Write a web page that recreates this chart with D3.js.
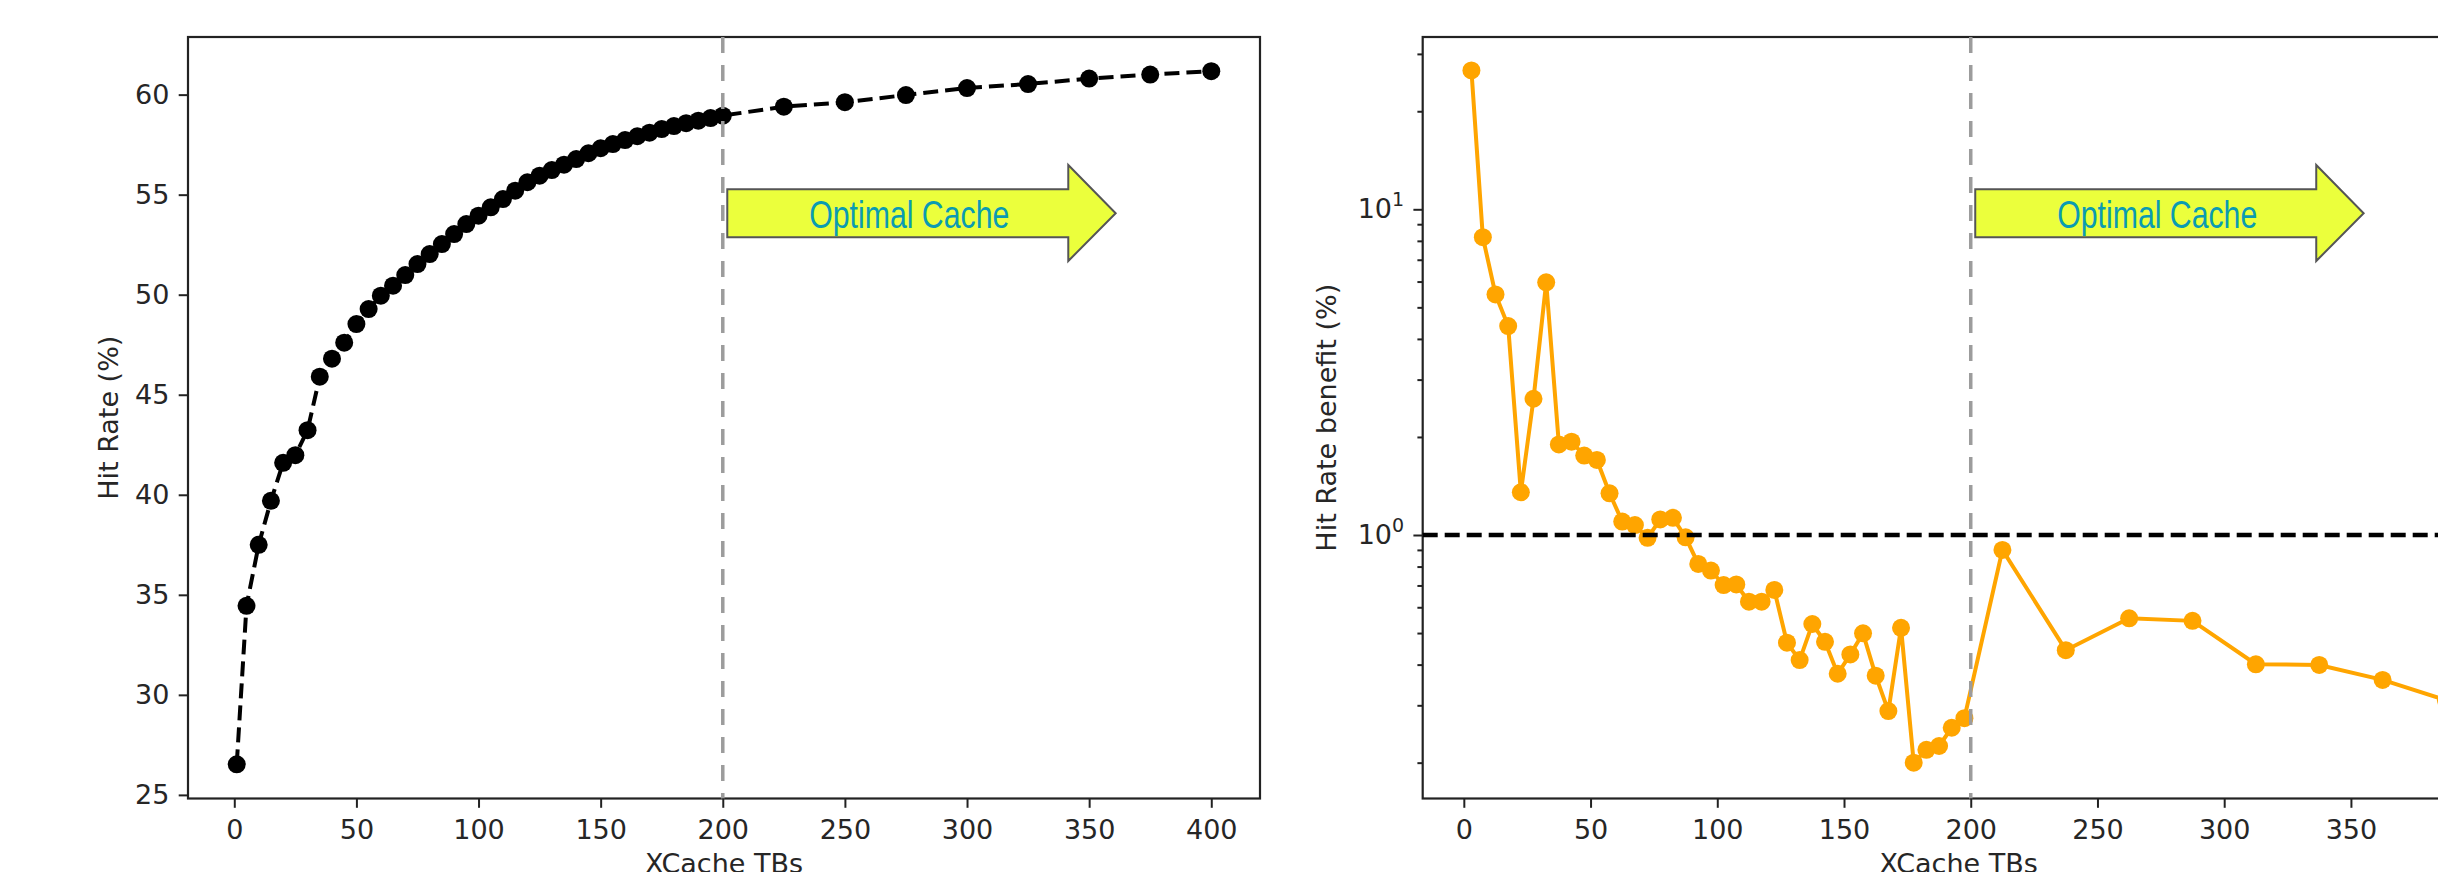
<!DOCTYPE html>
<html><head><meta charset="utf-8">
<script src="https://cdn.jsdelivr.net/npm/d3@7"></script>
<style>body{margin:0;background:#fff;overflow:hidden} svg{display:block}</style>
</head><body><svg id="c" width="2438" height="872"></svg>
<script>
// ---------------- data ----------------
const sizesTB = [1,5,10,15,20,25,30,35,40,45,50,55,60,65,70,75,80,85,90,95,100,
  105,110,115,120,125,130,135,140,145,150,155,160,165,170,175,180,185,190,195,200,
  225,250,275,300,325,350,375,400];
const hitRate = [26.53,34.45,37.5,39.7,41.6,41.98,43.23,45.9,46.8,47.6,48.53,49.28,49.95,50.45,50.98,51.53,52.03,52.53,53.03,53.53,53.95,
  54.37,54.78,55.2,55.62,55.95,56.23,56.5,56.78,57.07,57.32,57.53,57.73,57.92,58.1,58.28,58.43,58.57,58.7,58.83,58.95,
  59.4,59.62,59.98,60.33,60.53,60.8,61.0,61.17];
const benefitTB = [3,7.5,12.5,17.5,22.5,27.5,32.5,37.5,42.5,47.5,52.5,57.5,62.5,67.5,72.5,77.5,82.5,87.5,92.5,97.5,
  102.5,107.5,112.5,117.5,122.5,127.5,132.5,137.5,142.5,147.5,152.5,157.5,162.5,167.5,172.5,177.5,182.5,187.5,192.5,197.5,
  212.5,237.5,262.5,287.5,312.5,337.5,362.5,387.5];
const benefit = [26.7,8.21,5.48,4.38,1.353,2.62,5.97,1.897,1.934,1.753,1.70,1.343,1.10,1.073,0.98,1.116,1.129,0.984,0.815,0.778,
  0.702,0.705,0.624,0.624,0.678,0.467,0.413,0.533,0.470,0.375,0.430,0.499,0.370,0.288,0.519,0.200,0.219,0.225,0.256,0.274,
  0.90,0.443,0.555,0.545,0.401,0.399,0.359,0.311];
const xTicksLeft = [0,50,100,150,200,250,300,350,400];
const xTicksRight = [0,50,100,150,200,250,300,350];
const hitRateTicks = [25,30,35,40,45,50,55,60];
const benefitMajorTicks = [1,10];
const benefitMinorTicks = [0.2,0.3,0.4,0.5,0.6,0.7,0.8,0.9,2,3,4,5,6,7,8,9,20,30];
const optimalSizeTB = 200;
const referenceBenefit = 1;
const arrowLabel = "Optimal Cache";
const xLabel = "XCache TBs";
const yLabelLeft = "Hit Rate (%)";
const yLabelRight = "Hit Rate benefit (%)";

// ---------------- layout ----------------
const svg = d3.select("#c");
const TOP = 37, BOTTOM = 798.5;
const FONT = "'DejaVu Sans', sans-serif";
const TXT = "#262626";
const TICK = 9.3, MINOR = 5.3;
const R = 9;

const xL = d3.scaleLinear().domain([-18.95, 419.95]).range([188, 1260]);
const yL = d3.scaleLinear().domain([24.82, 62.88]).range([BOTTOM, TOP]);
const xR = d3.scaleLinear().domain([-16.225, 406.725]).range([1422.7, 2494.7]);
const yR = d3.scaleLog().domain([Math.pow(10,-0.809), Math.pow(10,1.529)]).range([BOTTOM, TOP]);

function styleAxis(g){
  g.select(".domain").remove();
  g.selectAll("line").attr("stroke", "#222").attr("stroke-width", 2);
  g.selectAll("text").attr("fill", TXT).attr("font-family", FONT).attr("font-size", 27);
}

function arrow(g, xStart){
  const shaftTop = 189.3, shaftBot = 237.3, headTop = 165, headBot = 261, tipY = 213.3;
  const shaftLen = 341, totalLen = 388.4;
  const pts = [[xStart,shaftTop],[xStart+shaftLen,shaftTop],[xStart+shaftLen,headTop],[xStart+totalLen,tipY],
               [xStart+shaftLen,headBot],[xStart+shaftLen,shaftBot],[xStart,shaftBot]];
  g.append("polygon").attr("points", pts.map(p=>p.join(",")).join(" "))
    .attr("fill", "#ebff3c").attr("stroke", "#555").attr("stroke-width", 2);
  g.append("text").attr("x", xStart+182).attr("y", 227.5).attr("text-anchor","middle")
    .attr("font-family","'Liberation Sans', Arial, sans-serif").attr("font-size", 38)
    .attr("textLength", 200).attr("lengthAdjust","spacingAndGlyphs")
    .attr("fill", "#0a9bb2").text(arrowLabel);
}

// ---------------- left panel ----------------
const gL = svg.append("g");
gL.append("rect").attr("x", xL.range()[0]).attr("y", TOP).attr("width", xL.range()[1]-xL.range()[0]).attr("height", BOTTOM-TOP)
  .attr("fill","none").attr("stroke","#222").attr("stroke-width",2.2);

const lineL = d3.line().x((d,i)=>xL(sizesTB[i])).y(d=>yL(d));
gL.append("path").datum(hitRate).attr("d", lineL).attr("fill","none")
  .attr("stroke","#000").attr("stroke-width",4).attr("stroke-dasharray","15,7");
gL.selectAll("circle.pt").data(hitRate).join("circle").attr("class","pt")
  .attr("cx",(d,i)=>xL(sizesTB[i])).attr("cy",d=>yL(d)).attr("r",R).attr("fill","#000");

gL.append("line").attr("x1", xL(optimalSizeTB)).attr("x2", xL(optimalSizeTB)).attr("y1", TOP).attr("y2", BOTTOM)
  .attr("stroke","#9c9c9c").attr("stroke-width",3.5).attr("stroke-dasharray","16,12");

gL.append("g").attr("transform",`translate(0,${BOTTOM})`)
  .call(d3.axisBottom(xL).tickValues(xTicksLeft).tickSize(TICK).tickPadding(12).tickSizeOuter(0)).call(styleAxis);
gL.append("g").attr("transform",`translate(${xL.range()[0]},0)`)
  .call(d3.axisLeft(yL).tickValues(hitRateTicks).tickSize(TICK).tickPadding(9.3).tickSizeOuter(0)).call(styleAxis);

gL.append("text").attr("transform",`translate(118,${(TOP+BOTTOM)/2}) rotate(-90)`).attr("text-anchor","middle")
  .attr("font-family",FONT).attr("font-size",27).attr("fill",TXT).text(yLabelLeft);
gL.append("text").attr("x",(xL.range()[0]+xL.range()[1])/2).attr("y",873).attr("text-anchor","middle")
  .attr("font-family",FONT).attr("font-size",27).attr("fill",TXT).text(xLabel);

arrow(gL, xL(optimalSizeTB)+4.5);

// ---------------- right panel ----------------
const gR = svg.append("g");
gR.append("rect").attr("x", xR.range()[0]).attr("y", TOP).attr("width", xR.range()[1]-xR.range()[0]).attr("height", BOTTOM-TOP)
  .attr("fill","none").attr("stroke","#222").attr("stroke-width",2.2);

const lineR = d3.line().x((d,i)=>xR(benefitTB[i])).y(d=>yR(d));
gR.append("path").datum(benefit).attr("d", lineR).attr("fill","none")
  .attr("stroke","#FFA500").attr("stroke-width",4);
gR.selectAll("circle.pt").data(benefit).join("circle").attr("class","pt")
  .attr("cx",(d,i)=>xR(benefitTB[i])).attr("cy",d=>yR(d)).attr("r",R).attr("fill","#FFA500");

gR.append("line").attr("x1", xR.range()[0]).attr("x2", xR.range()[1]).attr("y1", yR(referenceBenefit)).attr("y2", yR(referenceBenefit))
  .attr("stroke","#000").attr("stroke-width",4.5).attr("stroke-dasharray","15,7");
gR.append("line").attr("x1", xR(optimalSizeTB)).attr("x2", xR(optimalSizeTB)).attr("y1", TOP).attr("y2", BOTTOM)
  .attr("stroke","#9c9c9c").attr("stroke-width",3.5).attr("stroke-dasharray","16,12");

gR.append("g").attr("transform",`translate(0,${BOTTOM})`)
  .call(d3.axisBottom(xR).tickValues(xTicksRight).tickSize(TICK).tickPadding(12).tickSizeOuter(0)).call(styleAxis);
gR.append("g").attr("transform",`translate(${xR.range()[0]},0)`)
  .call(d3.axisLeft(yR).tickValues(benefitMinorTicks).tickSize(MINOR).tickFormat(()=>"").tickSizeOuter(0)).call(styleAxis);
gR.append("g").attr("transform",`translate(${xR.range()[0]},0)`)
  .call(d3.axisLeft(yR).tickValues(benefitMajorTicks).tickSize(TICK).tickFormat(()=>"").tickSizeOuter(0)).call(styleAxis);
benefitMajorTicks.forEach(v=>{
  const t = gR.append("text").attr("x", xR.range()[0]-18.6).attr("y", yR(v)+9).attr("text-anchor","end")
    .attr("font-family",FONT).attr("font-size",27).attr("fill",TXT);
  t.append("tspan").text("10");
  t.append("tspan").attr("dy",-12).attr("font-size",19).text(String(Math.round(Math.log10(v))));
});

gR.append("text").attr("transform",`translate(1336,${(TOP+BOTTOM)/2}) rotate(-90)`).attr("text-anchor","middle")
  .attr("font-family",FONT).attr("font-size",27).attr("fill",TXT).text(yLabelRight);
gR.append("text").attr("x",(xR.range()[0]+xR.range()[1])/2).attr("y",873).attr("text-anchor","middle")
  .attr("font-family",FONT).attr("font-size",27).attr("fill",TXT).text(xLabel);

arrow(gR, xR(optimalSizeTB)+4.5);
</script></body></html>
